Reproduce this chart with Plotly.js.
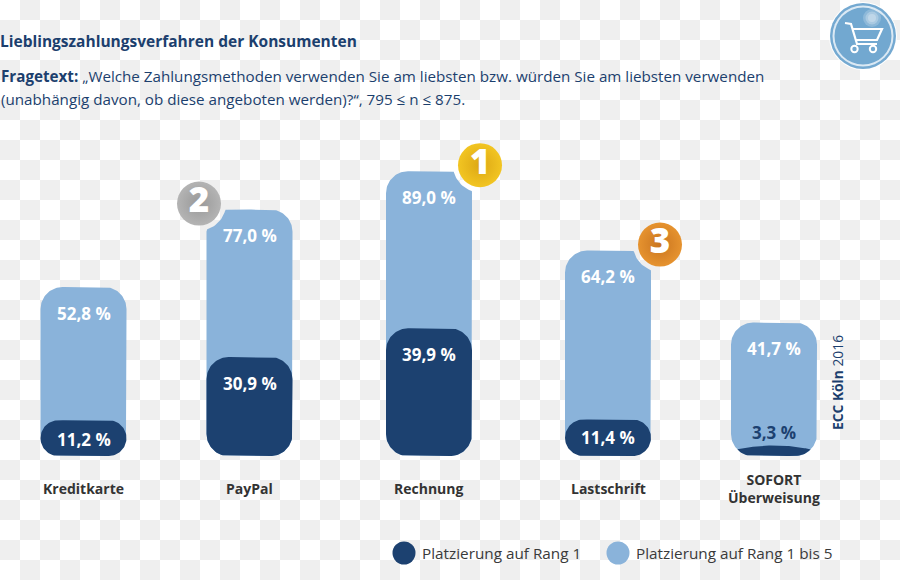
<!DOCTYPE html>
<html>
<head>
<meta charset="utf-8">
<script src="https://cdn.plot.ly/plotly-3.0.1.min.js"></script>
<style>
  html, body { margin: 0; padding: 0; }
  body { background: repeating-conic-gradient(#efefef 0 25%, #ffffff 0 50%) 0 0 / 40px 40px; }
  #chart { width: 900px; height: 580px; }
</style>
</head>
<body>
<div id="chart"></div>
<script>
//--------------------------------------- data -----------------------------------------------
var categories = ['Kreditkarte', 'PayPal', 'Rechnung', 'Lastschrift', 'SOFORT<br>Überweisung'];
var rang1bis5 = [52.8, 77.0, 89.0, 64.2, 41.7];
var rang1 = [11.2, 30.9, 39.9, 11.4, 3.3];
var seriesNames = ['Platzierung auf Rang 1', 'Platzierung auf Rang 1 bis 5'];
var medals = ['2', '1', '3'];

//--------------------------------------- layout numbers -------------------------------------
var barCenters = [83.5, 249.5, 429, 608, 774];
var medalBars = [1, 2, 3];
var medalDx = [-50.5, 51, 52];
var medalColors = ['#b4b4b4', '#f2c522', '#e6932f'];
var medalEdges = ['#989898', '#dca714', '#c9741f'];
var darkLabelShift = [-19, -26, -26, -18, 13];

var pxPerUnit = 3.2;
var baseY = 456;
var halfWidth = 43;
var radius = 22;
var medalLift = 6;   // medal centre above bar top, px
var notchRadius = 27;

var darkBlue = '#1c4170';
var lightBlue = '#8ab3da';
var titleBlue = '#1c3f6e';
var font = 'Open Sans, sans-serif';

// rounded bar outline in axis units; plotly only rounds the top of a real bar
function addBar(xs, ys, cx, value, notch) {
  var h = value * pxPerUnit;
  var r = h >= 20 ? Math.min(radius, h / 2) : radius;
  var top = [], bottom = [];
  var n = 80;
  for (var i = 0; i <= n; i++) {
    var dx = -halfWidth * Math.cos(Math.PI * i / n);
    var over = Math.max(0, Math.abs(dx) - (halfWidth - r));
    var arc = r - Math.sqrt(Math.max(0, r * r - over * over));
    var yLow = arc;
    // very short bars get a shallow dome instead of a flat top
    var yHigh = h >= 20 ? h - arc : h - 4 * (dx / 37) * (dx / 37);
    if (yHigh >= yLow) {
      top.push([cx + dx, yHigh]);
      bottom.unshift([cx + dx, yLow]);
    }
  }
  var outline = fillSide(top[top.length - 1], bottom[0]);
  var pts = top.concat(outline, bottom, fillSide(bottom[bottom.length - 1], top[0]));
  pts.push(top[0]);
  pts.forEach(function (p) {
    if (notch) {
      var ax = p[0] - notch[0], ay = p[1] - notch[1];
      var d = Math.sqrt(ax * ax + ay * ay);
      if (d < notchRadius) p = [notch[0] + ax * notchRadius / d, notch[1] + ay * notchRadius / d];
    }
    xs.push(p[0]); ys.push(p[1] / pxPerUnit);
  });
  xs.push(null); ys.push(null);
}

// extra points down a straight side so the medal notch can bend it
function fillSide(a, b) {
  var out = [];
  var steps = Math.floor(Math.abs(a[1] - b[1]) / 2);
  for (var i = 1; i < steps; i++) {
    out.push([a[0] + (b[0] - a[0]) * i / steps, a[1] + (b[1] - a[1]) * i / steps]);
  }
  return out;
}

function medalCenter(k) {
  var b = medalBars[k];
  return [barCenters[b] + medalDx[k], rang1bis5[b] * pxPerUnit + medalLift];
}

function barTrace(values, color, name, withNotch) {
  var xs = [], ys = [];
  values.forEach(function (v, i) {
    var k = medalBars.indexOf(i);
    addBar(xs, ys, barCenters[i], v, withNotch && k >= 0 ? medalCenter(k) : null);
  });
  return {
    x: xs, y: ys, type: 'scatter', mode: 'lines', fill: 'toself',
    fillcolor: color, line: { width: 0, color: color },
    name: name, hoverinfo: 'skip', showlegend: false
  };
}

function fmt(v) { return v.toFixed(1).replace('.', ',') + ' %'; }

//--------------------------------------- traces ---------------------------------------------
var medalTrace = {
  x: medals.map(function (m, k) { return medalCenter(k)[0]; }),
  y: medals.map(function (m, k) { return medalCenter(k)[1] / pxPerUnit; }),
  text: medals,
  type: 'scatter', mode: 'markers+text', textposition: 'middle center',
  textfont: { family: font, size: 35, color: '#ffffff', weight: 800 },
  marker: {
    size: 44, color: medalColors,
    gradient: { type: 'radial', color: medalEdges },
    line: { width: 0 }
  },
  hoverinfo: 'skip', showlegend: false
};

var legendX = [404, 618];
var legendY = (baseY - 553) / pxPerUnit;
var legendTrace = {
  x: legendX,
  y: [legendY, legendY],
  type: 'scatter', mode: 'markers',
  marker: { size: 23, color: [darkBlue, lightBlue] },
  hoverinfo: 'skip', showlegend: false
};

var data = [
  barTrace(rang1bis5, lightBlue, seriesNames[1], true),
  barTrace(rang1, darkBlue, seriesNames[0], false),
  medalTrace,
  legendTrace
];

//--------------------------------------- annotations ----------------------------------------
var annotations = [];

rang1bis5.forEach(function (v, i) {
  annotations.push({
    x: barCenters[i], y: v, yshift: -26, text: '<b>' + fmt(v) + '</b>',
    showarrow: false, yanchor: 'middle',
    font: { family: font, size: 17, color: '#ffffff' }
  });
});

rang1.forEach(function (v, i) {
  annotations.push({
    x: barCenters[i], y: v, yshift: darkLabelShift[i], text: '<b>' + fmt(v) + '</b>',
    showarrow: false, yanchor: 'middle',
    font: { family: font, size: 17, color: darkLabelShift[i] > 0 ? darkBlue : '#ffffff' }
  });
});

categories.forEach(function (c, i) {
  annotations.push({
    x: barCenters[i], y: 0, yshift: -32, text: '<b>' + c + '</b>',
    showarrow: false, yanchor: 'middle',
    font: { family: font, size: 14, color: '#333333' }
  });
});

function pageText(x, y, text, size, color) {
  return {
    xref: 'paper', yref: 'paper', x: x / 900, y: 1 - y / 580, text: text,
    xanchor: 'left', yanchor: 'middle', showarrow: false,
    font: { family: font, size: size, color: color || titleBlue }
  };
}
annotations.push(pageText(-1, 76, '<b>Fragetext:</b> „Welche Zahlungsmethoden verwenden Sie am liebsten bzw. würden Sie am liebsten verwenden', 15.2));
annotations.push(pageText(-1, 99, '(unabhängig davon, ob diese angeboten werden)?“, 795 ≤ n ≤ 875.', 15.2));
annotations.push(pageText(420, 553, seriesNames[0], 15.3, '#3a3a3a'));
annotations.push(pageText(634, 553, seriesNames[1], 15.3, '#3a3a3a'));
annotations.push({
  xref: 'paper', yref: 'paper', x: 837 / 900, y: 1 - 383 / 580, textangle: -90,
  xanchor: 'center', yanchor: 'middle',
  text: '<b>ECC Köln</b> 2016', showarrow: false,
  font: { family: font, size: 13.8, color: titleBlue }
});

//--------------------------------------- cart icon ------------------------------------------
function px(x) { return x / 900; }
function py(y) { return 1 - y / 580; }

function circle(cx, cy, r, fill, line) {
  return {
    type: 'circle', xref: 'paper', yref: 'paper',
    x0: px(cx - r), x1: px(cx + r), y0: py(cy + r), y1: py(cy - r),
    fillcolor: fill, line: line || { width: 0 }
  };
}
function polyline(points, closed) {
  var d = points.map(function (p, i) {
    return (i ? 'L' : 'M') + px(p[0]) + ',' + py(p[1]);
  }).join(' ');
  return {
    type: 'path', xref: 'paper', yref: 'paper', path: d + (closed ? ' Z' : ''),
    line: { color: '#ffffff', width: 2.2 }
  };
}

var shapes = [
  circle(863, 36, 34, '#ffffff'),
  circle(863, 36, 33, '#74a9d1'),
  circle(863, 36, 30.5, '#dbe9f4'),
  circle(863, 36, 28.5, '#72a8d0'),
  circle(872, 18, 9, 'rgba(255,255,255,0.2)'),
  circle(872, 18, 6.5, 'rgba(255,255,255,0.25)'),
  circle(872, 18, 4, 'rgba(255,255,255,0.25)'),
  polyline([[845, 23], [851, 24], [857, 44], [877, 44]]),
  polyline([[853, 29], [882, 29], [877, 40], [856, 40]]),
  circle(854.5, 49, 3.2, 'rgba(0,0,0,0)', { color: '#ffffff', width: 2 }),
  circle(873, 49, 3.2, 'rgba(0,0,0,0)', { color: '#ffffff', width: 2 })
];

//--------------------------------------- plot -----------------------------------------------
var layout = {
  width: 900,
  height: 580,
  margin: { t: 0, r: 0, l: 0, b: 0 },
  paper_bgcolor: 'rgba(0,0,0,0)',
  plot_bgcolor: 'rgba(0,0,0,0)',
  title: {
    text: '<b>Lieblingszahlungsverfahren der Konsumenten</b>',
    x: 0, xref: 'paper', xanchor: 'left',
    y: 1 - 42 / 580, yanchor: 'middle',
    font: { family: font, size: 15.5, color: titleBlue }
  },
  xaxis: { range: [0, 900], visible: false, fixedrange: true },
  yaxis: { range: [(baseY - 580) / pxPerUnit, baseY / pxPerUnit], visible: false, fixedrange: true },
  showlegend: false,
  annotations: annotations,
  shapes: shapes
};

Plotly.newPlot('chart', data, layout, { displayModeBar: false, staticPlot: true });
</script>
</body>
</html>
